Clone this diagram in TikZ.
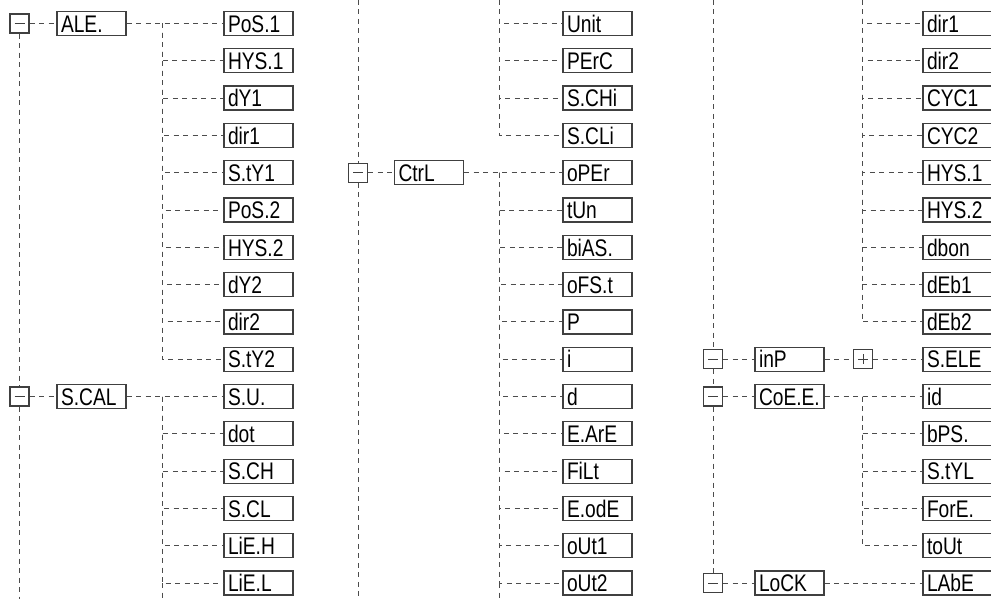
\documentclass[tikz,border=0pt]{standalone}
\usepackage{fontspec}
\setmainfont{Liberation Sans}
\newfontfamily\segfont[FakeStretch=0.8]{Liberation Sans}
\begin{document}
\begin{tikzpicture}[x=1pt,y=-1pt,
  conn/.style={draw=black!70, line width=1pt, dash pattern=on 5pt off 4.5pt},
  lbox/.style={draw=black!75, line width=1.2pt, fill=white, minimum width=69pt,
    minimum height=24pt, inner ysep=0pt, inner xsep=4pt, text width=61pt,
    text height=17.5pt, text depth=0pt, align=left,
    font=\segfont\fontsize{24}{24}\selectfont},
  tog/.style={draw=black!75, line width=1.1pt, fill=white, minimum size=19pt, inner sep=0pt},
  minusbox/.style={tog, path picture={\draw[line width=1pt]
      ([xshift=4.5pt]path picture bounding box.west) -- ([xshift=-4.5pt]path picture bounding box.east);}},
  plusbox/.style={tog, path picture={\draw[line width=1pt]
      ([xshift=4.5pt]path picture bounding box.west) -- ([xshift=-4.5pt]path picture bounding box.east)
      ([yshift=-4.5pt]path picture bounding box.north) -- ([yshift=4.5pt]path picture bounding box.south);}}
]
\useasboundingbox (0,0) rectangle (991,599);
\def\ry#1{23.5+37.3*#1}

% ---------------- column 1 ----------------
\coordinate (e1) at (19.5,599);
\coordinate (j1) at (162,{\ry{0}});
\coordinate (j2) at (162,{\ry{10}});
\coordinate (e2) at (162,599);
\foreach \t [count=\i from 0] in {PoS.1,HYS.1,dY1,dir1,S.tY1,PoS.2,HYS.2,dY2,dir2,S.tY2}
  \node[lbox] (a\i) at (258.5,{\ry{\i}}) {\t};
\foreach \t [count=\i from 0] in {S.U.,dot,S.CH,S.CL,LiE.H,LiE.L}
  \node[lbox] (b\i) at (258.5,{\ry{(\i+10)}}) {\t};
\node[minusbox] (m1) at (19.5,{\ry{0}}) {};
\node[lbox] (ale) at (91.5,{\ry{0}}) {ALE.};
\node[minusbox] (m2) at (19.5,{\ry{10}}) {};
\node[lbox] (scal) at (91.5,{\ry{10}}) {S.CAL};

\draw[conn] (m1) -- (ale);
\draw[conn] (m2) -- (scal);
\draw[conn] (m1.south) -- (m2.north);
\draw[conn] (m2.south) -- (e1);
\draw[conn] (ale) -- (a0);
\foreach \i in {1,...,9} \draw[conn] (j1) |- (a\i.west);
\draw[conn] (scal) -- (b0);
\foreach \i in {1,...,5} \draw[conn] (j2) |- (b\i.west);
\draw[conn] (b5.west -| j2) -- (e2);

% ---------------- column 2 ----------------
\coordinate (t3) at (358,0);
\coordinate (e3) at (358,599);
\coordinate (t4) at (499,0);
\coordinate (j4) at (499,{\ry{4}});
\coordinate (e4) at (499,599);
\foreach \t [count=\i from 0] in {Unit,PErC,S.CHi,S.CLi}
  \node[lbox] (c\i) at (597.5,{\ry{\i}}) {\t};
\foreach \t [count=\i from 0] in {oPEr,tUn,biAS.,oFS.t,P,i,d,E.ArE,FiLt,E.odE,oUt1,oUt2}
  \node[lbox] (d\i) at (597.5,{\ry{(\i+4)}}) {\t};
\node[minusbox] (m3) at (358,{\ry{4}}) {};
\node[lbox] (ctrl) at (429,{\ry{4}}) {CtrL};

\foreach \i in {0,...,3} \draw[conn] (t4) |- (c\i.west);
\draw[conn] (t3) -- (m3.north);
\draw[conn] (m3.south) -- (e3);
\draw[conn] (m3) -- (ctrl);
\draw[conn] (ctrl) -- (d0);
\foreach \i in {1,...,11} \draw[conn] (j4) |- (d\i.west);
\draw[conn] (d11.west -| j4) -- (e4);

% ---------------- column 3 ----------------
\coordinate (t5) at (713,0);
\coordinate (t6) at (862,0);
\coordinate (j6) at (862,{\ry{10}});
\foreach \t [count=\i from 0] in {dir1,dir2,CYC1,CYC2,HYS.1,HYS.2,dbon,dEb1,dEb2}
  \node[lbox] (f\i) at (957.5,{\ry{\i}}) {\t};
\foreach \t [count=\i from 0] in {id,bPS.,S.tYL,ForE.,toUt}
  \node[lbox] (g\i) at (957.5,{\ry{(\i+10)}}) {\t};
\node[lbox] (sele) at (957.5,{\ry{9}}) {S.ELE};
\node[lbox] (labe) at (957.5,{\ry{15}}) {LAbE};
\node[minusbox] (m4) at (713,{\ry{9}}) {};
\node[lbox] (inp) at (789.5,{\ry{9}}) {inP};
\node[plusbox] (p1) at (863,{\ry{9}}) {};
\node[minusbox] (m5) at (713,{\ry{10}}) {};
\node[lbox] (coee) at (789.5,{\ry{10}}) {CoE.E.};
\node[minusbox] (m6) at (713,{\ry{15}}) {};
\node[lbox] (lock) at (789.5,{\ry{15}}) {LoCK};

\foreach \i in {0,...,8} \draw[conn] (t6) |- (f\i.west);
\draw[conn] (t5) -- (m4.north);
\draw[conn] (m4.south) -- (m5.north);
\draw[conn] (m5.south) -- (m6.north);
\draw[conn] (m4) -- (inp);
\draw[conn] (inp) -- (p1);
\draw[conn] (p1) -- (sele);
\draw[conn] (m5) -- (coee);
\draw[conn] (coee) -- (g0);
\foreach \i in {1,...,4} \draw[conn] (j6) |- (g\i.west);
\draw[conn] (m6) -- (lock);
\draw[conn] (lock) -- (labe);
\end{tikzpicture}
\end{document}
